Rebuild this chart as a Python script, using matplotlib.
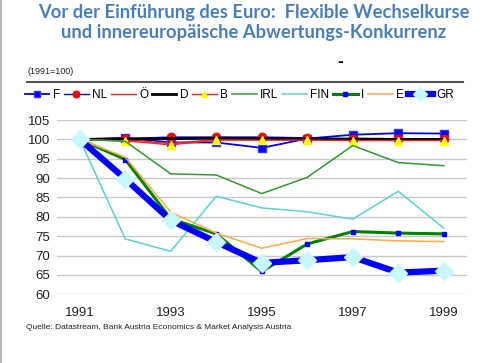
import matplotlib.pyplot as plt
import matplotlib.lines as mlines
from matplotlib import font_manager

years = [1991, 1992, 1993, 1994, 1995, 1996, 1997, 1998, 1999]

F = [100, 100.4, 99.2, 99.2, 97.8, 100.2, 101.2, 101.6, 101.5]
NL = [100, 100.2, 100.6, 100.6, 100.6, 100.4, 100.1, 100.0, 100.0]
OE = [100, 100.0, 98.9, 100.0, 100.0, 100.0, 100.0, 100.0, 100.0]
D = [100, 100.1, 100.2, 100.3, 100.2, 100.1, 100.1, 100.0, 100.0]
B = [100, 99.6, 98.6, 99.8, 99.8, 99.8, 99.7, 99.7, 99.7]
IRL = [100, 99.5, 91.1, 90.8, 86.0, 90.2, 98.4, 94.0, 93.2]
FIN = [100, 74.3, 71.1, 85.3, 82.3, 81.3, 79.4, 86.6, 77.1]
I = [100, 94.8, 79.5, 75.6, 65.9, 73.0, 76.2, 75.8, 75.6]
E = [100, 95.4, 81.2, 75.8, 71.9, 74.4, 74.3, 73.8, 73.6]
GR = [100, 89.8, 79.1, 73.5, 68.1, 68.8, 69.6, 65.6, 66.1]

xticks = [1991, 1993, 1995, 1997, 1999]
yticks = [60, 65, 70, 75, 80, 85, 90, 95, 100, 105]

names = [f.name for f in font_manager.fontManager.ttflist]
narrow = 'Liberation Sans Narrow' if 'Liberation Sans Narrow' in names else 'Liberation Sans'

fig = plt.figure(figsize=(4.94, 3.63), dpi=100)
ax = fig.add_axes([0.1154, 0.1893, 0.829, 0.4801])

ax.set_xlim(1990.5, 1999.5)
ax.set_ylim(60, 105)
ax.set_xticks(xticks)
ax.set_yticks(yticks)
ax.grid(axis='y', color='#c8c8c8', lw=1)
ax.set_axisbelow(True)
for s in ax.spines.values():
    s.set_visible(False)
ax.tick_params(length=0, labelsize=9.5, colors='#222222')
ax.tick_params(axis='x', pad=9)
ax.tick_params(axis='y', pad=5)
for lab in ax.get_xticklabels() + ax.get_yticklabels():
    lab.set_family(narrow)

lF, = ax.plot(years, F, color='#0000ff', lw=1.3, marker='s', ms=6, mec='#3333ff', mfc='#0000ff')
lNL, = ax.plot(years, NL, color='#0000ff', lw=1.0, marker='o', ms=6, mfc='#ff0000', mec='#ff0000')
lOE, = ax.plot(years, OE, color='#ff2020', lw=1.0)
lD, = ax.plot(years, D, color='black', lw=2)
lB, = ax.plot(years, B, color='#ff2020', lw=1.0, marker='^', ms=6, mfc='#ffff00', mec='#ffff00')
lIRL, = ax.plot(years, IRL, color='#2e9b2e', lw=1.1)
lFIN, = ax.plot(years, FIN, color='#5cd0d0', lw=1.1)
lI, = ax.plot(years, I, color='#008000', lw=2.2, marker='s', ms=3, mfc='#0000ff', mec='#0000ff')
lE, = ax.plot(years, E, color='#ffaa44', lw=1.1)
lGR, = ax.plot(years, GR, color='#0000ff', lw=4.5, marker='D', ms=9, mfc='#c8f8ff', mec='#c8f8ff')

handles = [lF, lNL, lOE, lD, lB, lIRL, lFIN, lI, lE, lGR]
labels = ['F', 'NL', 'Ö', 'D', 'B', 'IRL', 'FIN', 'I', 'E', 'GR']
leg = fig.legend(handles, labels, loc='center left', bbox_to_anchor=(0.05, 0.737), ncol=10,
                 frameon=False, handlelength=2.1, handletextpad=0.3, columnspacing=0.3,
                 borderaxespad=0, borderpad=0, prop={'family': narrow, 'size': 8.5},
                 markerscale=0.8)

# title
fig.text(0.513, 0.99, 'Vor der Einführung des Euro:  Flexible Wechselkurse\nund innereuropäische Abwertungs-Konkurrenz',
         ha='center', va='top', fontsize=13.2, fontweight='bold', color='#4a7ebb',
         family=['Lato', 'DejaVu Sans'], linespacing=1.22)

fig.text(0.055, 0.802, '(1991=100)', fontsize=6.5, family=narrow, color='#222222', va='center')
fig.add_artist(mlines.Line2D([0.055, 0.938], [0.774, 0.774], color='#555555', lw=1.5))
fig.text(0.688, 0.830, '-', fontsize=10, fontweight='bold', ha='center', va='center')

fig.text(0.053, 0.099, 'Quelle: Datastream, Bank Austria Economics & Market Analysis Austria',
         fontsize=6, family=narrow, color='#222222', va='center')

# slide frame
fig.add_artist(mlines.Line2D([0.002, 0.002], [0, 1], color='#aaaaaa', lw=1.2))

fig.savefig('out.png', dpi=100)
